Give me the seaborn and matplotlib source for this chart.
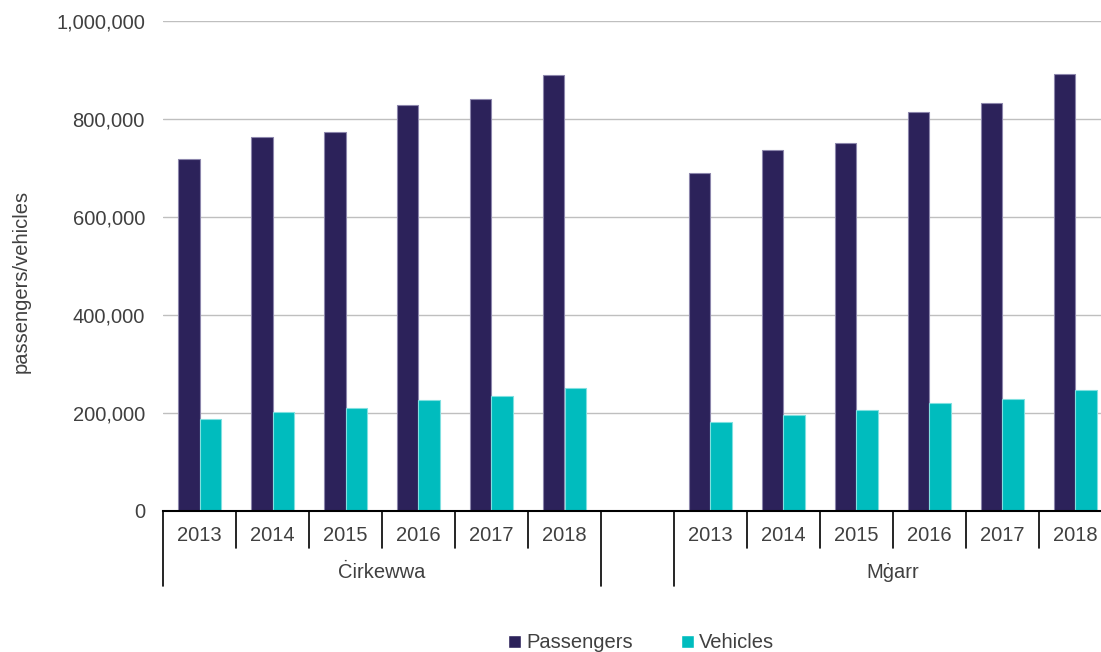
import matplotlib
matplotlib.use('Agg')
import numpy as np
import pandas as pd
import matplotlib.pyplot as plt
import seaborn as sns
from matplotlib.ticker import StrMethodFormatter

# values
years = ['2013', '2014', '2015', '2016', '2017', '2018']
ports = ['Ċirkewwa', 'Mġarr']
cirkewwa_passengers = [718000, 763000, 774000, 829000, 841000, 889000]
cirkewwa_vehicles = [187000, 202000, 211000, 227000, 234000, 251000]
mgarr_passengers = [689000, 737000, 751000, 815000, 833000, 891000]
mgarr_vehicles = [182000, 196000, 206000, 220000, 229000, 247000]
series = ['Passengers', 'Vehicles']

c_pass = '#2C225A'
c_veh = '#00BCBE'
text_col = '#404040'
fs = 14.5

# long table, one gap slot between the two ports
rows = []
for port, pas, veh in [(ports[0], cirkewwa_passengers, cirkewwa_vehicles),
                       (ports[1], mgarr_passengers, mgarr_vehicles)]:
    for y, p, v in zip(years, pas, veh):
        rows.append({'slot': f'{port} {y}', 'series': 'Passengers', 'value': p})
        rows.append({'slot': f'{port} {y}', 'series': 'Vehicles', 'value': v})
df = pd.DataFrame(rows)
order = [f'{ports[0]} {y}' for y in years] + ['gap'] + [f'{ports[1]} {y}' for y in years]

sns.set_theme(style='white')
plt.rcParams['font.family'] = ['Liberation Sans', 'DejaVu Sans']

fig = plt.figure(figsize=(11.01, 6.52), dpi=100)
ax = fig.add_axes([163 / 1101, 1 - 511 / 652, 1 - 163 / 1101, 490 / 652])

sns.barplot(data=df, x='slot', y='value', hue='series', order=order,
            hue_order=series, palette=[c_pass, c_veh], width=0.58,
            saturation=1, ax=ax)

# light outline on the bars
for cont, edge in zip(ax.containers, ['#8C86AC', '#7FE0E0']):
    for bar in cont:
        bar.set_edgecolor(edge)
        bar.set_linewidth(0.8)

ax.set_ylim(0, 1_000_000)
ax.set_yticks(range(0, 1_000_001, 200_000))
ax.yaxis.set_major_formatter(StrMethodFormatter('{x:,.0f}'))
ax.grid(axis='y', color='#BFBFBF', linewidth=1)
ax.set_axisbelow(True)
for s in ['left', 'top', 'right']:
    ax.spines[s].set_visible(False)
ax.spines['bottom'].set_color('black')
ax.spines['bottom'].set_linewidth(1.5)
ax.tick_params(axis='y', length=0, pad=13, labelsize=fs, labelcolor=text_col)
ax.set_xticks([])
ax.set_xlabel('')
ax.set_ylabel('passengers/vehicles', fontsize=fs, color=text_col)
ax.yaxis.set_label_coords(-0.141, 0.469)

# two level category axis
tr = ax.get_xaxis_transform()
for i, slot in enumerate(order):
    if slot == 'gap':
        continue
    ax.text(i, -0.051, slot.split(' ')[1], transform=tr, ha='center', va='center',
            fontsize=fs, color=text_col)
for b in np.arange(-0.5, 13, 1):
    low = -0.153 if b in (-0.5, 5.5, 6.5, 12.5) else -0.0755
    ax.plot([b, b], [0, low], transform=tr, clip_on=False, color='black', lw=1.2)
ax.text(2.5, -0.1265, ports[0], transform=tr, ha='center', va='center',
        fontsize=fs, color=text_col)
ax.text(9.5, -0.1265, ports[1], transform=tr, ha='center', va='center',
        fontsize=fs, color=text_col)

ax.set_xlim(-0.5, -0.5 + 938 / 73)

sns.move_legend(ax, 'center', bbox_to_anchor=(641 / 1101, 1 - 643 / 652),
                bbox_transform=fig.transFigure, ncol=2, frameon=False, title=None,
                handlelength=0.65, handleheight=0.65, handletextpad=0.25,
                columnspacing=2.4, fontsize=fs, labelcolor=text_col)

fig.savefig('out.png', dpi=100)
